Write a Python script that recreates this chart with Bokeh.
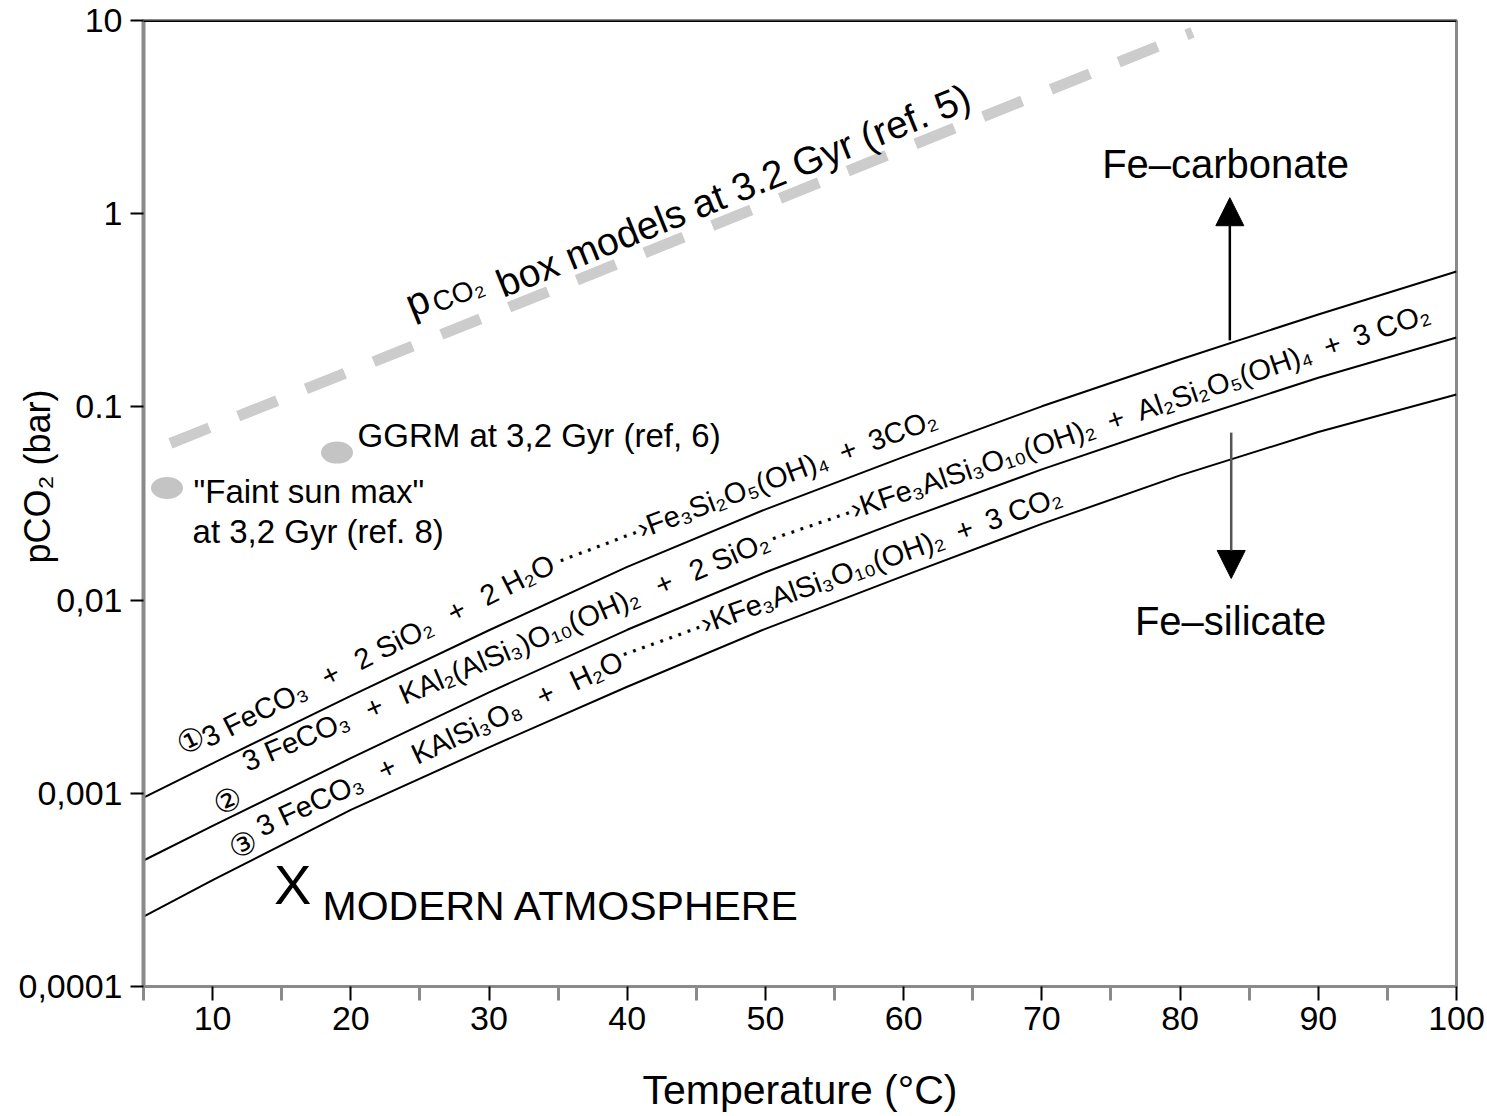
import math
from bokeh.plotting import figure
from bokeh.models import Range1d, FixedTicker, Label, Arrow, NormalHead, Span
from bokeh.embed import file_html
from bokeh.resources import INLINE

# ---------------- data ----------------
temperature_c = [5, 10, 20, 30, 40, 50, 60, 70, 80, 90, 100]
reaction1_pco2 = [0.00095, 0.00143, 0.00319, 0.00698, 0.01486, 0.0295, 0.0551, 0.1007, 0.176, 0.301, 0.502]
reaction2_pco2 = [0.000449, 0.000679, 0.00152, 0.00333, 0.00702, 0.01393, 0.0260, 0.0475, 0.0830, 0.1416, 0.2286]
reaction3_pco2 = [0.000230, 0.000355, 0.000820, 0.00173, 0.00356, 0.0071, 0.01334, 0.0248, 0.0442, 0.0741, 0.1159]

box_model_temp = [6.95, 80.9]
box_model_pco2 = [0.0647, 8.67]

estimate_names = ["Faint sun max", "GGRM"]
estimate_temp = [6.7, 19.0]
estimate_pco2 = [0.038, 0.058]

modern_temp = [15.8]
modern_pco2 = [0.000337]

x_ticks = [10, 20, 30, 40, 50, 60, 70, 80, 90, 100]
x_minor_ticks = [5, 15, 25, 35, 45, 55, 65, 75, 85, 95]
y_ticks = [0.0001, 0.001, 0.01, 0.1, 1, 10]
y_tick_labels = ["0,0001", "0,001", "0,01", "0.1", "1", "10"]

FONT = "Liberation Sans"
PLUS = "\u2002+\u2002"
WPLUS = "\u2002\u2009+\u2002\u2009"
DOTS = "\u00b7" * 9 + "\u203a"

p = figure(width=1487, height=1116, x_range=Range1d(5, 100), y_range=Range1d(1e-4, 10),
           y_axis_type="log", output_backend="svg", toolbar_location=None,
           min_border_left=143, min_border_right=31, min_border_top=20, min_border_bottom=130)
p.background_fill_color = "white"
p.border_fill_color = "white"
p.xgrid.visible = False
p.ygrid.visible = False
p.outline_line_color = "#8a8a8a"
p.outline_line_width = 3

# x axis
xa = p.xaxis[0]
xa.ticker = FixedTicker(ticks=x_ticks, minor_ticks=x_minor_ticks)
xa.axis_line_color = "#8a8a8a"
xa.axis_line_width = 3
xa.major_tick_in = 0
xa.major_tick_out = 14
xa.major_tick_line_width = 2
xa.major_tick_line_color = "black"
xa.minor_tick_in = 0
xa.minor_tick_out = 14
xa.minor_tick_line_width = 3
xa.minor_tick_line_color = "#8a8a8a"
xa.major_label_text_font = FONT
xa.major_label_text_font_size = "34px"
xa.major_label_text_color = "black"
xa.major_label_standoff = 6
xa.axis_label = "Temperature (\u00b0C)"
xa.axis_label_text_font = FONT
xa.axis_label_text_font_size = "41px"
xa.axis_label_text_font_style = "normal"
xa.axis_label_text_color = "black"
xa.axis_label_standoff = 34

# y axis
ya = p.yaxis[0]
ya.ticker = FixedTicker(ticks=y_ticks, minor_ticks=[])
ya.major_label_overrides = {t: s for t, s in zip(y_ticks, y_tick_labels)}
ya.axis_line_color = "#8a8a8a"
ya.axis_line_width = 4
ya.major_tick_in = 0
ya.major_tick_out = 13
ya.major_tick_line_width = 2
ya.major_tick_line_color = "black"
ya.minor_tick_line_color = None
ya.major_label_text_font = FONT
ya.major_label_text_font_size = "34px"
ya.major_label_text_color = "black"
ya.major_label_standoff = 8
ya.axis_label = "\u2003\u2002pCO\u2082 (bar)"
ya.axis_label_text_font = FONT
ya.axis_label_text_font_size = "36px"
ya.axis_label_text_font_style = "normal"
ya.axis_label_text_color = "black"
ya.axis_label_standoff = -42

# black top border
p.add_layout(Span(location=10, dimension="width", line_color="black", line_width=3))

# box model dashed line
p.line(box_model_temp, box_model_pco2, line_color="#cccccc", line_width=11, line_dash="42 31")

# estimates
p.ellipse(estimate_temp, estimate_pco2, width=32, height=22, width_units="screen",
          height_units="screen", fill_color="#c4c4c4", line_color=None)

# reaction lines
for ys in (reaction1_pco2, reaction2_pco2, reaction3_pco2):
    p.line(temperature_c, ys, line_color="black", line_width=2)


def lab(x, y, text, size, angle=0.0, align="left", baseline="alphabetic", style="normal", color="black"):
    # the anchor is meant as the text baseline: lift the text along its own "up" direction
    d = 0.36 * size if baseline == "alphabetic" else 0.0
    p.add_layout(Label(x=x, y=y, text=text, angle=angle, text_align=align, text_baseline=baseline,
                       x_offset=-d * math.sin(angle), y_offset=d * math.cos(angle),
                       text_font=FONT, text_font_size=f"{size}px", text_font_style=style,
                       text_color=color))


# box model label
lab(24.46, 0.287, "p", 40, angle=0.384)
lab(26.27, 0.305, "CO\u2082", 28, angle=0.384)
lab(31.05, 0.364, "box models at 3.2 Gyr (ref. 5)", 39, angle=0.384)

# estimate labels
lab(20.49, 0.0617, "GGRM at 3,2 Gyr (ref, 6)", 33)
lab(8.62, 0.0316, "\"Faint sun max\"", 33)
lab(8.55, 0.01963, "at 3,2 Gyr (ref. 8)", 33)

# reactions
RF = 29
CF = 31
lab(8.45, 0.001875, "\u2460", CF, angle=0.454, align="center", baseline="middle")
lab(9.70, 0.001706, "3 FeCO\u2083" + WPLUS + "2 SiO\u2082" + WPLUS + "2 H\u2082O", RF, angle=0.47)
lab(35.17, 0.01439, DOTS + "Fe\u2083Si\u2082O\u2085(OH)\u2084" + PLUS + "3CO\u2082", RF, angle=0.36)

lab(11.08, 0.000918, "\u2461", CF, angle=0.403, align="center", baseline="middle")
lab(12.53, 0.001282, "3 FeCO\u2083" + WPLUS + "KAl\u2082(AlSi\u2083)O\u2081\u2080(OH)\u2082" + WPLUS + "2 SiO\u2082",
    RF, angle=0.403)
lab(50.51, 0.0187, DOTS + "KFe\u2083AlSi\u2083O\u2081\u2080(OH)\u2082" + PLUS + "Al\u2082Si\u2082O\u2085(OH)\u2084"
    + PLUS + "3 CO\u2082", RF, angle=0.330)

lab(12.25, 0.000545, "\u2462", CF, angle=0.435, align="center", baseline="middle")
lab(13.61, 0.000591, "3 FeCO\u2083" + WPLUS + "KAlSi\u2083O\u2088" + WPLUS + "H\u2082O", RF, angle=0.435)
lab(39.73, 0.00470, DOTS + "KFe\u2083AlSi\u2083O\u2081\u2080(OH)\u2082" + PLUS + "3 CO\u2082", RF, angle=0.346)

# modern atmosphere
lab(modern_temp[0], modern_pco2[0], "X", 56, align="center", baseline="middle")
lab(17.95, 0.000220, "MODERN ATMOSPHERE", 41)

# stability fields
lab(83.29, 1.52, "Fe\u2013carbonate", 40, align="center")
lab(83.65, 0.00656, "Fe\u2013silicate", 40, align="center")
p.add_layout(Arrow(end=NormalHead(size=28, fill_color="black", line_color="black"),
                   x_start=83.6, y_start=0.221, x_end=83.6, y_end=1.21,
                   line_color="black", line_width=2.5))
p.add_layout(Arrow(end=NormalHead(size=28, fill_color="black", line_color="black"),
                   x_start=83.7, y_start=0.0736, x_end=83.7, y_end=0.01294,
                   line_color="#555555", line_width=2.5))

open("out.html", "w").write(file_html(p, INLINE))
